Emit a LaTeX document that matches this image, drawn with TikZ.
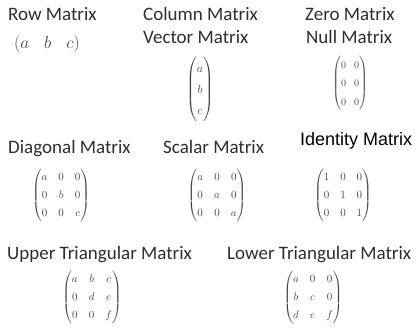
\documentclass[tikz,border=0pt]{standalone}
\usepackage{amsmath}
\usepackage{fontspec}
\newfontfamily\titlefont{Carlito}
\newfontfamily\arialfont{Liberation Sans}
\definecolor{titlegray}{HTML}{2E2E2E}
\definecolor{entrygray}{HTML}{444444}
\tikzset{
  title/.style={anchor=base west, inner sep=0pt, text=titlegray,
    font=\titlefont\fontsize{19}{22}\selectfont},
  plaintitle/.style={anchor=base west, inner sep=0pt, text=black,
    font=\arialfont\fontsize{18}{20}\selectfont},
  mat/.style={inner sep=0pt, text=entrygray},
}
\begin{document}
\begin{tikzpicture}[x=1pt,y=-1pt]
\useasboundingbox (0,0) rectangle (416,331);

% headings
\node[title] (trow) at (8,21) {Row Matrix};
\node[title] (tcol) at (143,21) {Column Matrix};
\node[title] (tvec) at (143,44) {Vector Matrix};
\node[title] (tzero) at (305,21) {Zero Matrix};
\node[title] (tnull) at (306,44) {Null Matrix};
\node[title] (tdiag) at (8,154) {Diagonal Matrix};
\node[title] (tscal) at (163,154) {Scalar Matrix};
\node[plaintitle] (tiden) at (300,146) {Identity Matrix};
\node[title] (tupp) at (7,260) {Upper Triangular Matrix};
\node[title] (tlow) at (227,260) {Lower Triangular Matrix};

% matrices
\node[mat] (mrow) at (47,44) {\fontsize{16}{18}\selectfont
  $\left(a\hspace{15pt}b\hspace{15pt}c\right)$};
\node[mat] (mcol) at (200,89) {\fontsize{12}{21}\selectfont\arraycolsep=3pt
  $\begin{pmatrix} a\\ b\\ c \end{pmatrix}$};
\node[mat] (mzero) at (350,83) {\fontsize{10}{18.5}\selectfont\arraycolsep=4pt
  $\begin{pmatrix} 0 & 0\\ 0 & 0\\ 0 & 0 \end{pmatrix}$};
\node[mat] (mdiag) at (61,195) {\fontsize{11}{18}\selectfont\arraycolsep=5.5pt
  $\begin{pmatrix} a & 0 & 0\\ 0 & b & 0\\ 0 & 0 & c \end{pmatrix}$};
\node[mat] (mscal) at (217,195) {\fontsize{11}{18}\selectfont\arraycolsep=5.5pt
  $\begin{pmatrix} a & 0 & 0\\ 0 & a & 0\\ 0 & 0 & a \end{pmatrix}$};
\node[mat] (miden) at (343,195) {\fontsize{11}{18}\selectfont\arraycolsep=5.5pt
  $\begin{pmatrix} 1 & 0 & 0\\ 0 & 1 & 0\\ 0 & 0 & 1 \end{pmatrix}$};
\node[mat] (mupp) at (92,297) {\fontsize{11}{18}\selectfont\arraycolsep=5.5pt
  $\begin{pmatrix} a & b & c\\ 0 & d & e\\ 0 & 0 & f \end{pmatrix}$};
\node[mat] (mlow) at (313,297) {\fontsize{11}{18}\selectfont\arraycolsep=5.5pt
  $\begin{pmatrix} a & 0 & 0\\ b & c & 0\\ d & e & f \end{pmatrix}$};
\end{tikzpicture}
\end{document}
